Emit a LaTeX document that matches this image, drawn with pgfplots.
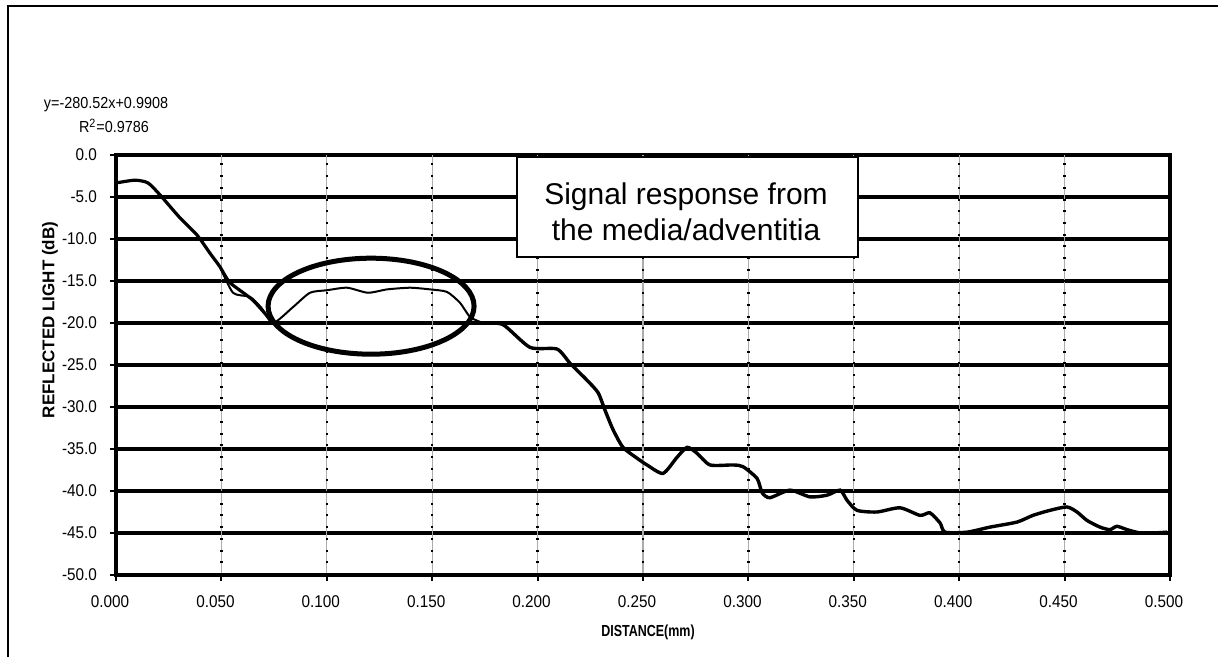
\documentclass[border=0pt]{standalone}
\usepackage{fontspec}
\setmainfont{Liberation Sans}
\newfontfamily\cond[FakeStretch=0.9]{Liberation Sans}
\newfontfamily\condb[FakeStretch=0.78]{Liberation Sans Bold}
\usepackage{pgfplots}
\pgfplotsset{compat=1.18}
\begin{document}
\begin{tikzpicture}
\path[use as bounding box] (0,0) rectangle (609pt,328.5pt);
\draw[line width=0.8pt] (4pt,0) -- (4pt,325.5pt) -- (609pt,325.5pt);
\begin{axis}[
  at={(58pt,41pt)}, anchor=south west,
  scale only axis, width=527pt, height=210pt,
  xmin=0, xmax=0.5, ymin=-50, ymax=0,
  xtick={0,0.05,0.1,0.15,0.2,0.25,0.3,0.35,0.4,0.45,0.5},
  xticklabels={0.000,0.050,0.100,0.150,0.200,0.250,0.300,0.350,0.400,0.450,0.500},
  ytick={-50,-45,-40,-35,-30,-25,-20,-15,-10,-5,0},
  yticklabels={-50.0,-45.0,-40.0,-35.0,-30.0,-25.0,-20.0,-15.0,-10.0,-5.0,0.0},
  tick pos=left, tick align=outside, major tick length=3pt,
  tick style={black, line width=1pt},
  xticklabel style={font=\cond\fontsize{8.5}{10}\selectfont, xshift=-3pt, yshift=-4pt},
  yticklabel style={font=\cond\fontsize{8.5}{10}\selectfont, xshift=-3pt},
  axis line style={line width=2pt},
  ymajorgrids, major grid style={black, line width=1.6pt},
  clip=true,
]
\pgfplotsinvokeforeach{0.05,0.1,0.15,0.2,0.25,0.3,0.35,0.4,0.45}{
  \draw[gray!65, line width=0.6pt] (axis cs:#1,-50) -- (axis cs:#1,0);
  \draw[black, line width=1.2pt, dash pattern=on 1pt off 4.85pt] (axis cs:#1,-50) -- (axis cs:#1,0);
}
% thick first part
\addplot[black, line width=1.6pt, smooth, tension=0.4] coordinates {
(0,-3.33) (0.009,-3.0) (0.0152,-3.33) (0.0209,-4.76) (0.0304,-7.5) (0.0384,-9.52)
(0.0446,-11.7) (0.0493,-13.3) (0.0541,-15.2) (0.065,-17.3) (0.0745,-20.0)
};
% thin branch and bump
\addplot[black, line width=1pt, smooth, tension=0.4] coordinates {
(0.0493,-13.3) (0.0555,-16.4) (0.0636,-16.9) (0.069,-18.2) (0.0745,-20.0)
(0.084,-18.1) (0.092,-16.4) (0.1001,-16.1) (0.1096,-15.8) (0.1195,-16.4)
(0.1286,-16.0) (0.1395,-15.8) (0.149,-16.0) (0.157,-16.3) (0.1632,-17.6)
(0.168,-19.3) (0.1741,-20.0)
};
% thick remainder
\addplot[black, line width=1.7pt, smooth, tension=0.4] coordinates {
(0.1741,-20.0) (0.1836,-20.2) (0.1964,-22.9) (0.2092,-23.1) (0.2154,-24.8)
(0.2234,-26.8) (0.2287,-28.3) (0.232,-30.4) (0.2358,-32.7) (0.2405,-34.8)
(0.2472,-36.1) (0.2519,-36.9) (0.2595,-37.9) (0.2661,-36.0) (0.2709,-34.8)
(0.2756,-35.5) (0.2818,-36.9) (0.2927,-36.9) (0.2974,-37.1) (0.3041,-38.5)
(0.3065,-40.2) (0.3102,-40.8) (0.3197,-39.9) (0.3292,-40.7) (0.3373,-40.5)
(0.3435,-39.9) (0.3468,-41.1) (0.3515,-42.3) (0.361,-42.5) (0.3719,-42.0)
(0.3814,-42.9) (0.3861,-42.6) (0.3909,-43.8) (0.3933,-44.9) (0.4037,-44.9)
(0.4146,-44.3) (0.4274,-43.7) (0.435,-42.9) (0.4431,-42.3) (0.4511,-41.9)
(0.4559,-42.5) (0.4606,-43.5) (0.4668,-44.3) (0.4715,-44.6) (0.4748,-44.2)
(0.4796,-44.6) (0.4858,-45.0) (0.4919,-45.0) (0.4986,-44.9)
};
\draw[black, line width=2.5pt] (axis cs:0.121,-18.0) ellipse [x radius=51.5pt, y radius=24pt];
\end{axis}
% annotation box
\draw[line width=1.3pt, fill=white] (258.5pt,200pt) rectangle (429pt,250pt);
\node[align=center, font=\fontsize{15}{18}\selectfont, inner sep=0pt] at (343pt,222.5pt) {Signal response from\\the media/adventitia};
% equation
\node[font=\cond\fontsize{8}{9}\selectfont, inner sep=0pt] at (53pt,276pt) {y=-280.52x+0.9908};
\node[font=\cond\fontsize{8}{9}\selectfont, inner sep=0pt] at (57pt,265.5pt) {R\textsuperscript{2}=0.9786};
% axis labels
\node[font=\bfseries\fontsize{8.5}{10}\selectfont, rotate=90, inner sep=0pt] at (25pt,168.5pt) {REFLECTED LIGHT (dB)};
\node[font=\condb\fontsize{8}{10}\selectfont, inner sep=0pt] at (324pt,12.5pt) {DISTANCE(mm)};
\end{tikzpicture}
\end{document}
